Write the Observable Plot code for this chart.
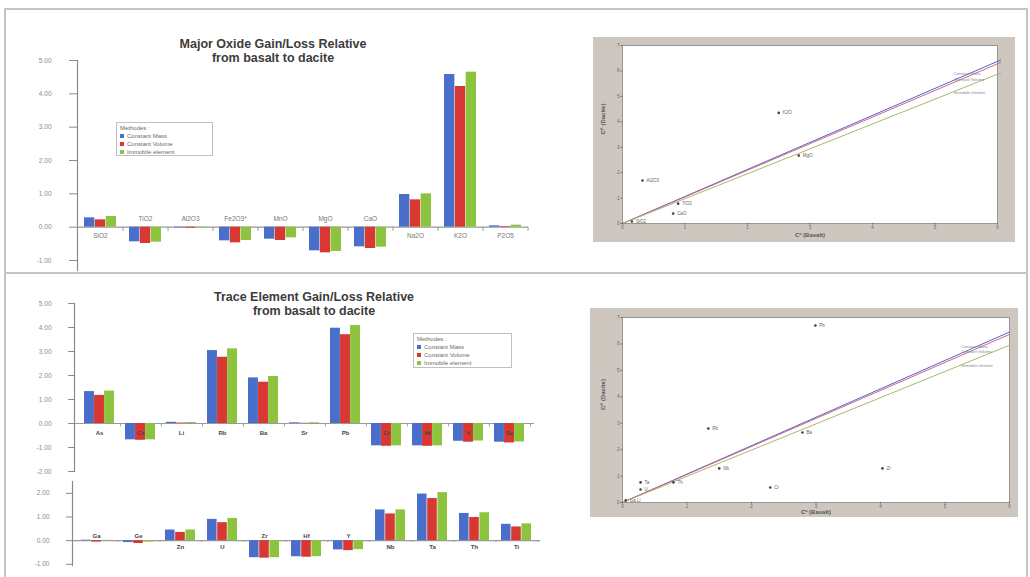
<!DOCTYPE html>
<html><head><meta charset="utf-8">
<script src="https://cdn.jsdelivr.net/npm/d3@7"></script>
<script src="https://cdn.jsdelivr.net/npm/@observablehq/plot@0.6"></script>
<style>
body{margin:0;background:#fff;font-family:"Liberation Sans",Arial,sans-serif;}
#root{position:relative;width:1030px;height:577px;overflow:hidden;background:#fff;}
.ln{position:absolute;background:#c4c4c4;}
.title{position:absolute;font-weight:bold;font-size:12.5px;color:#3c3c3c;text-align:center;line-height:13.5px;white-space:nowrap;}
.legend{position:absolute;border:1px solid #c0c0c0;background:#fff;font-size:6px;color:#6a6a6a;line-height:8px;padding:1px 3px;box-sizing:border-box;white-space:nowrap;}
.sw{display:inline-block;width:4px;height:4px;margin-right:3px;vertical-align:middle;}
</style></head><body><div id="root"></div>
<script>
// ---------- data ----------
const methods = ["Constant Mass", "Constant Volume", "Immobile element"];
const methodColors = ["#4a6fcb", "#d93832", "#8cc43f"];

const majorTitle = ["Major Oxide Gain/Loss Relative", "from basalt to dacite"];
const majorCats = ["SiO2","TiO2","Al2O3","Fe2O3*","MnO","MgO","CaO","Na2O","K2O","P2O5"];
const majorMass     = [0.28,-0.44,-0.02,-0.41,-0.36,-0.71,-0.59,0.98,4.58,0.04];
const majorVolume   = [0.22,-0.49,-0.03,-0.47,-0.40,-0.77,-0.64,0.82,4.22,0.02];
const majorImmobile = [0.32,-0.45,-0.02,-0.40,-0.32,-0.73,-0.60,1.00,4.65,0.06];
const majorTicks = [5,4,3,2,1,0,-1];

const traceTitle = ["Trace Element Gain/Loss Relative", "from basalt to dacite"];
const trace1Cats = ["As","Cs","Li","Rb","Ba","Sr","Pb","Cr","Ni","V","Sc"];
const trace1Mass     = [1.33,-0.68,0.05,3.04,1.90,0.03,3.97,-0.93,-0.93,-0.74,-0.78];
const trace1Volume   = [1.17,-0.70,0.02,2.76,1.72,0.01,3.70,-0.95,-0.95,-0.78,-0.81];
const trace1Immobile = [1.35,-0.68,0.04,3.11,1.96,0.03,4.08,-0.93,-0.93,-0.73,-0.77];
const trace1Ticks = [5,4,3,2,1,0,-1,-2];

const trace2Cats = ["Ga","Ge","Zn","U","Zr","Hf","Y","Nb","Ta","Th","Ti"];
const trace2Mass     = [0.02,-0.08,0.45,0.90,-0.72,-0.68,-0.39,1.30,1.97,1.15,0.69];
const trace2Volume   = [-0.06,-0.12,0.35,0.76,-0.74,-0.70,-0.42,1.13,1.78,0.98,0.58];
const trace2Immobile = [0.01,-0.06,0.45,0.94,-0.72,-0.68,-0.38,1.30,2.03,1.18,0.71];
const trace2Ticks = [2,1,0,-1];

// isocon diagrams
const isoXLabel = "Cº (Basalt)";
const isoYLabel = "Cᴬ (Dacite)";
const isoXTicks = [0,1,2,3,4,5,6];
const isoYTicks = [0,1,2,3,4,5,6,7];
const majorIsoNames = ["SiO2","Al2O3","TiO2","CaO","K2O","MgO"];
const majorIsoX = [0.15,0.32,0.89,0.81,2.50,2.82];
const majorIsoY = [0.08,1.69,0.78,0.39,4.35,2.67];
const majorIsoEndX = [6.05,6.05,6.05];
const majorIsoEndY = [6.43,6.33,5.92];

const traceIsoNames = ["Pb","Rb","Ba","Nb","Cr","Zr","Th","Ta","U","Ga Li"];
const traceIsoX = [2.99,1.33,2.79,1.50,2.29,4.03,0.79,0.28,0.28,0.05];
const traceIsoY = [6.70,2.80,2.65,1.29,0.57,1.29,0.76,0.76,0.49,0.08];
const traceIsoEndX = [6.0,6.0,6.0];
const traceIsoEndY = [6.45,6.36,5.95];
const isoLineColors = ["#5a5fc8", "#c86a8a", "#a9b86a"];

// ---------- helpers ----------
const root = document.getElementById("root");
function place(el, left, top) { el.style.position = "absolute"; el.style.left = left + "px"; el.style.top = top + "px"; root.appendChild(el); }
function line(l, t, w, h) { const d = document.createElement("div"); d.className = "ln"; d.style.left = l+"px"; d.style.top = t+"px"; d.style.width = w+"px"; d.style.height = h+"px"; root.appendChild(d); }
function title(lines, cx, top) {
  const d = document.createElement("div"); d.className = "title";
  d.style.left = (cx - 200) + "px"; d.style.top = top + "px"; d.style.width = "400px";
  d.innerHTML = lines.join("<br>"); root.appendChild(d);
}
function legend(left, top, w, h) {
  const d = document.createElement("div"); d.className = "legend";
  d.style.left = left+"px"; d.style.top = top+"px"; d.style.width = w+"px"; d.style.height = h+"px";
  let html = "<div>Methodes :</div>";
  methods.forEach((m,i) => html += `<div><span class="sw" style="background:${methodColors[i]}"></span>${m}</div>`);
  d.innerHTML = html; root.appendChild(d);
}

function barChart(o) {
  const {cats, series, width, height, ml, mr, mt, mb, yDomain, yTicks, tickSize, tickPadding, labelRule, dyAbove, dyBelow, labelFont, labelColor, labelWeight} = o;
  const rows = [];
  cats.forEach((c,i) => series.forEach((s,j) => rows.push({cat:c, j, value:s[i]})));
  const n = cats.length, pi = 0.28, po = 0.14;
  const step = (width - ml - mr) / (n - pi + 2*po);
  const third = step * (1 - pi) / 3;
  const labels = cats.map((c,i) => ({cat:c, above: labelRule(series.map(s => s[i]))}));
  const marks = [
    Plot.ruleY([0], {stroke:"#9a9a9a", strokeWidth:1.2}),
    Plot.ruleX(cats, {x: d => d, dx: step/2, y1: 0, y2: -(yDomain[1]-yDomain[0]) * 0.02, stroke:"#9a9a9a"}),
  ];
  methods.forEach((m,j) => marks.push(Plot.barY(rows.filter(r => r.j === j), {x:"cat", y:"value", fill: methodColors[j], insetLeft: j*third, insetRight: (2-j)*third})));
  marks.push(
    Plot.text(labels.filter(d => d.above), {x:"cat", y:0, text:"cat", dy: dyAbove, fontSize: labelFont, fill: labelColor, fontWeight: labelWeight}),
    Plot.text(labels.filter(d => !d.above), {x:"cat", y:0, text:"cat", dy: dyBelow, fontSize: labelFont, fill: labelColor, fontWeight: labelWeight}),
    Plot.axisY({ticks: yTicks, tickFormat: d => d.toFixed(2), tickSize, tickPadding, fontSize: 6.5, color:"#8a8a8a", label: null}),
    Plot.frame({anchor:"left", stroke:"#8a8a8a", strokeWidth: 1.2})
  );
  return Plot.plot({
    width, height, marginLeft: ml, marginRight: mr, marginTop: mt, marginBottom: mb,
    style: {background:"transparent", overflow:"visible", fontFamily:"Liberation Sans, Arial, sans-serif"},
    x: {type:"band", domain: cats, paddingInner: pi, paddingOuter: po, axis: null},
    y: {domain: yDomain, axis: null},
    marks
  });
}

function isocon(o) {
  const {width, height, ml, mr, mt, mb, names, xs, ys, endX, endY, xLabelDy} = o;
  const pts = names.map((nm,i) => ({name:nm, x: xs[i], y: ys[i]}));
  const lines = [];
  methods.forEach((m,i) => { lines.push({m, i, x:0, y:0}); lines.push({m, i, x:endX[i], y:endY[i]}); });
  const lineLabs = methods.map((m,i) => ({m, x: endX[i] - 0.75, y: endY[i] - 0.55 - i*0.12}));
  return Plot.plot({
    width, height, marginLeft: ml, marginRight: mr, marginTop: mt, marginBottom: mb,
    style: {background:"#cdc7c0", overflow:"hidden", fontFamily:"Liberation Sans, Arial, sans-serif"},
    x: {domain:[0,6], axis:null},
    y: {domain:[0,7], axis:null},
    marks: [
      Plot.frame({fill:"white", stroke:"#9c9690"}),
      Plot.line(lines, {x:"x", y:"y", z:"m", stroke: d => isoLineColors[d.i], strokeWidth: 1}),
      Plot.dot(pts, {x:"x", y:"y", r:1.3, fill:"#444"}),
      Plot.text(pts, {x:"x", y:"y", text:"name", dx:4, textAnchor:"start", fontSize:4.5, fill:"#666"}),
      Plot.text(lineLabs, {x:"x", y:"y", text:"m", textAnchor:"start", fontSize:4, fill:"#888"}),
      Plot.axisX({ticks: isoXTicks, tickFormat: d3.format("d"), tickSize: 1.5, tickPadding: 1, fontSize: 4.5, color:"#666", label: null}),
      Plot.axisY({ticks: isoYTicks, tickFormat: d3.format("d"), tickSize: 1.5, tickPadding: 1.5, fontSize: 4.5, color:"#666", label: null}),
      Plot.text([isoXLabel], {frameAnchor:"bottom", dy: xLabelDy, fontSize: 6, fontWeight:"bold", fill:"#555"}),
      Plot.text([isoYLabel], {frameAnchor:"left", dx: -19, rotate: -90, fontSize: 6, fontWeight:"bold", fill:"#555"})
    ]
  });
}

// ---------- page frame ----------
line(4, 8, 1023, 2);
line(4, 8, 1.5, 569);
line(1026, 8, 1.5, 569);
line(4, 272, 1023, 1.5);

// ---------- major oxide bar chart ----------
const majorPlot = barChart({cats: majorCats, series:[majorMass, majorVolume, majorImmobile],
  width:530, height:225, ml:77, mr:2, mt:10, mb:5, yDomain:[-1.3,5], yTicks: majorTicks,
  tickSize:8, tickPadding:18, labelRule: v => Math.min(...v) < 0, dyAbove:-8, dyBelow:9,
  labelFont:6.5, labelColor:"#777", labelWeight:"normal"});
place(majorPlot, 0, 50);
title(majorTitle, 273, 38);
legend(116, 122, 97, 34);

// ---------- trace element charts ----------
const trace1Plot = barChart({cats: trace1Cats, series:[trace1Mass, trace1Volume, trace1Immobile],
  width:536, height:182, ml:74, mr:2, mt:10, mb:4, yDomain:[-2,5], yTicks: trace1Ticks,
  tickSize:6, tickPadding:17, labelRule: v => false, dyAbove:-8, dyBelow:10,
  labelFont:6, labelColor:"#444", labelWeight:"bold"});
place(trace1Plot, 0, 293);

const trace2Plot = barChart({cats: trace2Cats, series:[trace2Mass, trace2Volume, trace2Immobile],
  width:542, height:100, ml:72, mr:2, mt:11, mb:5, yDomain:[-1.05,2.5], yTicks: trace2Ticks,
  tickSize:6, tickPadding:17, labelRule: v => Math.min(...v) < 0, dyAbove:-5, dyBelow:6,
  labelFont:6, labelColor:"#444", labelWeight:"bold"});
place(trace2Plot, 0, 470);
title(traceTitle, 314, 291);
legend(413, 333, 99, 35);

// ---------- isocon diagrams ----------
const iso1 = isocon({width:422, height:205, ml:29, mr:18, mt:8, mb:19, xLabelDy: 13,
  names: majorIsoNames, xs: majorIsoX, ys: majorIsoY, endX: majorIsoEndX, endY: majorIsoEndY});
place(iso1, 593, 37);
const iso2 = isocon({width:428, height:209, ml:32, mr:9, mt:9, mb:15, xLabelDy: 11,
  names: traceIsoNames, xs: traceIsoX, ys: traceIsoY, endX: traceIsoEndX, endY: traceIsoEndY});
place(iso2, 590, 308);
</script></body></html>
